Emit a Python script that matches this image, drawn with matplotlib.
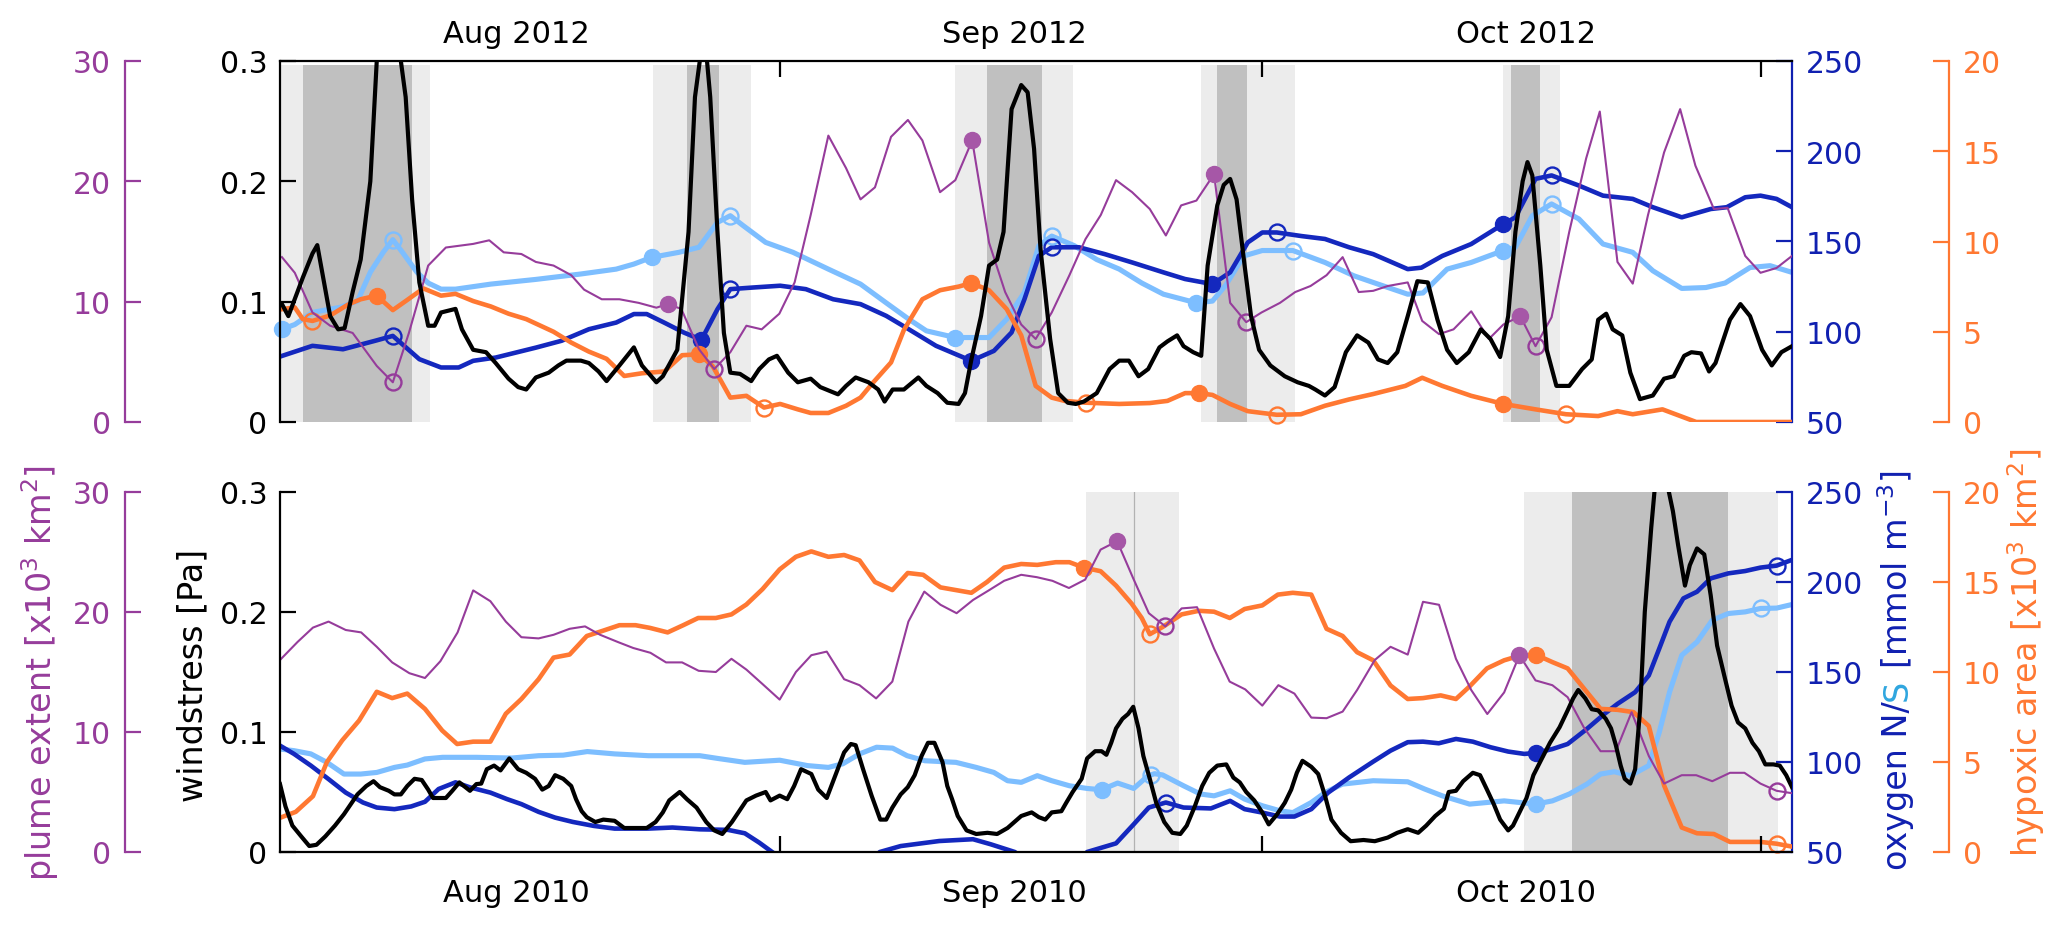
import numpy as np
import matplotlib
matplotlib.use("Agg")
import matplotlib.pyplot as plt

plt.rcParams['font.family'] = ['DejaVu Sans']
plt.rcParams['mathtext.fontset'] = 'dejavusans'

W, H = 2067, 929

# x axis in days since 1 Aug
X_MIN, X_MAX = -0.12, 93.96
month_ticks = [31, 61, 92]
month_label_pos = [14.6, 45.6, 77.4]
labels_2012 = ["Aug 2012", "Sep 2012", "Oct 2012"]
labels_2010 = ["Aug 2010", "Sep 2010", "Oct 2010"]

# ---------------- 2012 (top panel) ----------------
wind_2012 = [(0, 0.098), (0.4, 0.088), (1.3, 0.12), (1.9, 0.14), (2.2, 0.147), (3.0, 0.088), (3.5, 0.077),
             (3.9, 0.078), (4.4, 0.108), (4.9, 0.135), (5.5, 0.2), (5.9, 0.3), (6.4, 0.36), (6.9, 0.38),
             (7.4, 0.3), (7.7, 0.27), (8.1, 0.185), (8.55, 0.116), (9.1, 0.08), (9.5, 0.08), (9.9, 0.091),
             (10.8, 0.094), (11.2, 0.077), (11.9, 0.06), (12.7, 0.058), (13.3, 0.049), (14.1, 0.036),
             (14.7, 0.029), (15.2, 0.027), (15.8, 0.037), (16.6, 0.041), (17.2, 0.047), (17.7, 0.051),
             (18.6, 0.051), (19.1, 0.049), (19.7, 0.042), (20.2, 0.034), (21.0, 0.047), (21.9, 0.062),
             (22.4, 0.047), (23.3, 0.033), (23.7, 0.038), (24.6, 0.06), (25.3, 0.158), (25.7, 0.27),
             (26.0, 0.3), (26.2, 0.31), (26.45, 0.3), (26.65, 0.27), (27.1, 0.158), (27.5, 0.074),
             (27.9, 0.041), (28.5, 0.04), (29.2, 0.034), (29.7, 0.044), (30.3, 0.052), (30.8, 0.055),
             (31.5, 0.041), (32.1, 0.033), (32.9, 0.036), (33.5, 0.029), (34.6, 0.023), (35.1, 0.03),
             (35.7, 0.037), (36.5, 0.033), (37.1, 0.027), (37.5, 0.017), (38.0, 0.027), (38.7, 0.027),
             (39.6, 0.037), (40.1, 0.03), (40.8, 0.024), (41.4, 0.016), (42.1, 0.015), (42.5, 0.024),
             (42.9, 0.052), (43.5, 0.088), (44.0, 0.13), (44.5, 0.135), (44.9, 0.158), (45.4, 0.26),
             (46.0, 0.28), (46.4, 0.274), (46.8, 0.227), (47.2, 0.144), (47.8, 0.069), (48.3, 0.024),
             (48.9, 0.016), (49.4, 0.015), (49.9, 0.017), (50.7, 0.024), (51.5, 0.044), (52.1, 0.051),
             (52.7, 0.051), (53.3, 0.038), (53.9, 0.044), (54.6, 0.062), (55.1, 0.067), (55.7, 0.072),
             (56.1, 0.063), (56.7, 0.058), (57.2, 0.055), (57.6, 0.13), (58.2, 0.18), (58.6, 0.197),
             (59.0, 0.202), (59.4, 0.185), (59.9, 0.13), (60.3, 0.088), (60.8, 0.06), (61.5, 0.047),
             (62.4, 0.038), (63.2, 0.033), (63.9, 0.03), (64.3, 0.027), (64.9, 0.022), (65.5, 0.029),
             (66.2, 0.058), (66.9, 0.072), (67.6, 0.066), (68.2, 0.052), (68.8, 0.049), (69.4, 0.058),
             (70.05, 0.088), (70.65, 0.117), (71.3, 0.116), (71.9, 0.085), (72.5, 0.06), (73.1, 0.049),
             (73.85, 0.058), (74.6, 0.077), (75.2, 0.069), (75.8, 0.054), (76.3, 0.088), (76.75, 0.158),
             (77.2, 0.2), (77.5, 0.216), (77.8, 0.205), (78.3, 0.13), (78.7, 0.06), (79.3, 0.03),
             (80.1, 0.03), (80.9, 0.044), (81.5, 0.052), (81.9, 0.085), (82.4, 0.09), (82.8, 0.077),
             (83.4, 0.072), (83.9, 0.041), (84.5, 0.019), (85.3, 0.022), (86.0, 0.036), (86.6, 0.038),
             (87.25, 0.055), (87.7, 0.058), (88.3, 0.057), (88.8, 0.042), (89.2, 0.049), (90.1, 0.085),
             (90.75, 0.098), (91.35, 0.088), (92.1, 0.06), (92.7, 0.047), (93.3, 0.058), (93.96, 0.063)]

oxyN_2012 = [(0, 86.6), (1.9, 92.2), (3.8, 90.3), (5.8, 95), (6.9, 97.7), (8.55, 84.8), (9.9, 80.2),
             (11.0, 80.2), (11.9, 83.9), (13.3, 85.7), (15.8, 91.2), (17.4, 95), (19.1, 101.4),
             (20.8, 105.1), (21.9, 109.8), (22.7, 109.8), (23.8, 105), (25.0, 99.6), (26.1, 95.5),
             (27.1, 112.5), (27.9, 123.6), (29.3, 124.5), (31.0, 125.5), (32.6, 123.6), (34.3, 118),
             (36.0, 115.3), (37.6, 108.8), (39.0, 101.4), (40.7, 92.2), (42.9, 83.9), (44.3, 89.4),
             (45.4, 99.6), (46.2, 118), (47.1, 142), (47.9, 146.8), (49.6, 146.8), (51.2, 143),
             (52.9, 138.4), (54.85, 132.9), (56.2, 129.2), (57.9, 126.4), (59.0, 132.9), (60.1, 149.5),
             (61.0, 155), (61.9, 155), (63.45, 153), (64.9, 151.4), (66.4, 146.8), (67.9, 143),
             (70.05, 134.7), (70.9, 135.5), (72.2, 142), (74.0, 148.6), (76.0, 159.7), (76.75, 163.4),
             (78.0, 184.7), (79.0, 186.6), (80.7, 181), (82.2, 175.4), (84.05, 173.6), (85.3, 169),
             (87.1, 163.4), (88.9, 168), (89.9, 169), (91.05, 174.5), (92.0, 175.4), (93.0, 173.6),
             (93.96, 169)]

oxyS_2012 = [(0, 101.4), (0.8, 104), (1.9, 110.7), (3.6, 113.5), (4.7, 117), (5.5, 133), (6.3, 144),
             (6.9, 151), (7.5, 144), (8.4, 133), (9.1, 127), (9.9, 123.6), (10.8, 123.6), (13.0, 126.4),
             (15.8, 129), (18.6, 132), (20.8, 134.7), (21.9, 137.5), (23.0, 141.2), (24.7, 144),
             (25.95, 146.8), (27.1, 160.6), (27.9, 164.3), (28.7, 158.8), (30.1, 149.5), (31.8, 144),
             (34.0, 134.7), (36.0, 126.4), (37.6, 116), (39.0, 107), (40.1, 100.5), (41.9, 96.8),
             (44.0, 96.8), (45.1, 107), (46.2, 121.8), (47.1, 147.7), (47.9, 153), (49.3, 147.7),
             (50.7, 140), (52.1, 134.7), (53.5, 127), (54.85, 120.8), (56.9, 116), (57.9, 117),
             (58.7, 125.5), (59.85, 142), (61.0, 145), (62.9, 145), (64.9, 138.4), (66.7, 131),
             (68.2, 126.4), (70.05, 120.8), (71.0, 121.5), (72.5, 134.7), (74.0, 138.4), (76.0, 145),
             (76.75, 146.8), (77.8, 164.3), (79.0, 170.8), (80.7, 162.5), (82.2, 148.6), (84.05, 144),
             (85.3, 133.8), (87.1, 124), (88.6, 124.5), (89.8, 127), (91.35, 135.6), (92.6, 136.6),
             (93.96, 132.9)]

hypoxic_2012 = [(0, 6.25), (0.8, 6.35), (1.3, 5.7), (1.9, 5.6), (3.0, 5.9), (4.1, 6.5), (4.9, 6.8),
                (5.9, 7.0), (6.9, 6.2), (7.7, 6.7), (8.8, 7.4), (9.9, 7.0), (10.8, 7.1), (11.9, 6.7),
                (13.0, 6.4), (14.1, 6.0), (15.2, 5.7), (16.9, 5.0), (18.0, 4.4), (19.1, 3.9), (20.2, 3.5),
                (21.3, 2.55), (22.4, 2.7), (23.8, 2.8), (24.9, 3.7), (25.95, 3.75), (26.8, 3.1),
                (27.9, 1.35), (28.9, 1.45), (30.0, 0.8), (31.0, 1.0), (32.1, 0.7), (32.9, 0.5), (34.0, 0.5),
                (35.1, 0.9), (36.0, 1.35), (36.8, 2.2), (37.9, 3.3), (38.7, 5.1), (39.85, 6.8),
                (40.95, 7.3), (42.1, 7.5), (42.9, 7.7), (44.0, 7.3), (45.1, 6.25), (46.0, 4.8), (46.9, 2.0),
                (47.9, 1.35), (48.7, 1.17), (50.0, 1.07), (52.1, 1.0), (54.0, 1.05), (55.1, 1.17),
                (56.2, 1.6), (57.05, 1.6), (57.9, 1.5), (59.0, 1.0), (60.1, 0.6), (61.9, 0.4), (63.4, 0.43),
                (64.9, 0.9), (66.4, 1.25), (67.9, 1.55), (69.9, 2.0), (70.95, 2.45), (72.2, 2.0),
                (74.0, 1.45), (76.0, 1.0), (78.0, 0.7), (79.9, 0.43), (81.9, 0.33), (83.1, 0.6),
                (84.05, 0.43), (85.9, 0.7), (88.0, 0.0), (93.96, 0.0)]

plume_2012 = [(0, 13.7), (0.8, 12.4), (1.9, 9.1), (3.0, 8.0), (4.4, 7.4), (5.9, 4.66), (6.9, 3.3),
              (7.9, 7.4), (9.1, 13.0), (10.2, 14.5), (11.9, 14.8), (12.9, 15.1), (13.8, 14.1),
              (14.9, 13.96), (15.8, 13.3), (16.9, 13.0), (18.0, 12.2), (18.8, 11.0), (19.9, 10.2),
              (21.0, 10.2), (22.2, 9.9), (23.3, 9.5), (24.0, 9.8), (24.85, 9.4), (25.95, 6.05),
              (26.9, 4.4), (27.9, 5.8), (28.9, 8.0), (29.85, 7.7), (30.95, 9.0), (31.9, 11.6),
              (32.9, 17.2), (34.0, 23.8), (35.1, 21.1), (36.0, 18.5), (36.9, 19.5), (37.9, 23.7),
              (38.95, 25.1), (39.85, 23.4), (40.95, 19.1), (41.9, 20.1), (42.95, 23.4), (44.0, 14.9),
              (45.0, 10.8), (46.0, 8.1), (46.9, 6.9), (47.9, 9.1), (49.0, 12.2), (50.0, 15.2),
              (50.95, 17.2), (51.9, 20.1), (52.9, 19.1), (54.0, 17.7), (55.0, 15.5), (55.95, 18.0),
              (56.9, 18.4), (58.0, 20.6), (59.0, 9.9), (60.0, 8.3), (60.95, 9.1), (62.1, 9.9),
              (63.05, 10.8), (64.0, 11.3), (65.0, 12.2), (66.0, 13.7), (67.0, 10.8), (67.9, 10.9),
              (68.8, 11.3), (70.05, 11.6), (70.95, 8.4), (72.0, 7.3), (72.9, 7.7), (74.0, 9.2),
              (75.1, 6.9), (76.0, 8.1), (77.05, 8.8), (78.0, 6.3), (79.0, 8.7), (80.1, 15.8),
              (81.15, 21.9), (82.0, 25.8), (83.1, 13.3), (84.05, 11.5), (85.0, 17.2), (86.0, 22.4),
              (87.0, 26.0), (87.95, 21.3), (89.1, 17.7), (89.95, 17.8), (91.05, 13.8), (92.0, 12.4),
              (93.0, 12.8), (93.96, 13.8)]

# event markers (days): filled = start, open = end
marks_2012 = {
    "oxyS": ([0, 23.0, 41.9, 56.9, 76.0], [6.9, 27.9, 47.9, 62.9, 79.0]),
    "oxyN": ([26.1, 42.9, 57.9, 76.0], [6.9, 27.9, 47.9, 61.9, 79.0]),
    "hypoxic": ([5.9, 25.95, 42.9, 57.05, 76.0], [1.9, 30.0, 50.0, 61.9, 79.9]),
    "plume": ([24.0, 42.95, 58.0, 77.05], [6.9, 26.9, 46.9, 60.0, 78.0]),
}
light_2012 = [(X_MIN, 9.2), (23.1, 29.2), (41.9, 49.2), (57.2, 63.05), (76.0, 79.55)]
dark_2012 = [(1.33, 8.1), (25.2, 27.2), (43.9, 47.3), (58.2, 60.05), (76.5, 78.3)]

# ---------------- 2010 (bottom panel) ----------------
wind_2010 = [(-0.12, 0.0566), (0.22, 0.038), (0.65, 0.022), (1.2, 0.013), (1.7, 0.005), (2.15, 0.006),
             (2.7, 0.013), (3.3, 0.022), (3.86, 0.0315), (4.29, 0.04), (4.7, 0.048), (5.25, 0.055),
             (5.7, 0.059), (6.1, 0.054), (6.65, 0.051), (7.0, 0.048), (7.4, 0.048), (7.8, 0.055),
             (8.25, 0.061), (8.7, 0.06), (9.1, 0.052), (9.4, 0.045), (10.2, 0.045), (10.6, 0.051),
             (11.04, 0.058), (11.7, 0.051), (12.1, 0.0566), (12.4, 0.057), (12.75, 0.069), (13.2, 0.072),
             (13.6, 0.068), (14.15, 0.078), (14.7, 0.069), (15.2, 0.066), (15.75, 0.061), (16.2, 0.052),
             (16.6, 0.055), (17.0, 0.064), (17.5, 0.061), (18.0, 0.055), (18.3, 0.044), (18.65, 0.034),
             (18.97, 0.029), (19.5, 0.025), (20.0, 0.027), (20.7, 0.026), (21.3, 0.02), (22.0, 0.02),
             (22.7, 0.02), (23.25, 0.025), (23.7, 0.033), (24.1, 0.043), (24.75, 0.05), (25.2, 0.044),
             (25.8, 0.037), (26.4, 0.025), (26.9, 0.018), (27.4, 0.015), (28.0, 0.025), (28.4, 0.033),
             (28.9, 0.043), (29.5, 0.047), (30.1, 0.05), (30.4, 0.043), (30.97, 0.047), (31.44, 0.044),
             (31.87, 0.055), (32.3, 0.069), (32.94, 0.065), (33.37, 0.052), (33.9, 0.045), (34.44, 0.064),
             (34.98, 0.083), (35.4, 0.09), (35.7, 0.089), (36.16, 0.069), (36.69, 0.047), (37.23, 0.027),
             (37.6, 0.027), (37.98, 0.037), (38.5, 0.048), (38.94, 0.054), (39.37, 0.064), (39.8, 0.08),
             (40.2, 0.091), (40.6, 0.091), (41.1, 0.075), (41.4, 0.055), (41.7, 0.044), (42.05, 0.03),
             (42.6, 0.018), (43.2, 0.015), (43.9, 0.016), (44.5, 0.015), (45.15, 0.02), (45.58, 0.025),
             (46.0, 0.03), (46.65, 0.033), (47.1, 0.029), (47.5, 0.027), (47.9, 0.033), (48.5, 0.034),
             (48.8, 0.041), (49.2, 0.05), (49.76, 0.061), (50.1, 0.078), (50.6, 0.084), (51.0, 0.084),
             (51.3, 0.081), (51.6, 0.091), (51.9, 0.103), (52.3, 0.111), (52.65, 0.115), (52.97, 0.121),
             (53.3, 0.103), (53.6, 0.08), (54.0, 0.061), (54.4, 0.041), (54.9, 0.025), (55.4, 0.016),
             (55.9, 0.015), (56.3, 0.022), (56.8, 0.038), (57.26, 0.055), (57.7, 0.066), (58.2, 0.072),
             (58.76, 0.073), (59.2, 0.062), (59.6, 0.058), (60.0, 0.05), (60.5, 0.043), (61.0, 0.033),
             (61.4, 0.023), (61.9, 0.031), (62.4, 0.041), (62.8, 0.052), (63.15, 0.066), (63.5, 0.076),
             (64.05, 0.071), (64.48, 0.065), (64.9, 0.047), (65.3, 0.027), (65.9, 0.016), (66.5, 0.009),
             (67.3, 0.01), (68.0, 0.009), (68.8, 0.012), (69.4, 0.016), (70.05, 0.019), (70.7, 0.016),
             (71.2, 0.022), (71.76, 0.03), (72.3, 0.036), (72.6, 0.05), (73.05, 0.051), (73.5, 0.059),
             (74.1, 0.066), (74.55, 0.064), (74.98, 0.052), (75.4, 0.04), (75.8, 0.027), (76.3, 0.018),
             (76.6, 0.022), (77.0, 0.033), (77.44, 0.045), (77.87, 0.064), (78.4, 0.078), (78.9, 0.091),
             (79.5, 0.104), (80.0, 0.118), (80.34, 0.128), (80.66, 0.135), (81.1, 0.128), (81.5, 0.119),
             (81.9, 0.118), (82.37, 0.111), (82.7, 0.103), (83.0, 0.089), (83.3, 0.072), (83.55, 0.061),
             (83.9, 0.057), (84.2, 0.069), (84.5, 0.117), (84.8, 0.2), (85.2, 0.27), (85.4, 0.3),
             (85.85, 0.34), (86.3, 0.3), (86.55, 0.284), (86.87, 0.256), (87.3, 0.222), (87.6, 0.239),
             (88.05, 0.253), (88.5, 0.248), (88.9, 0.214), (89.3, 0.172), (89.8, 0.144), (90.2, 0.122),
             (90.6, 0.108), (91.05, 0.103), (91.5, 0.091), (91.9, 0.084), (92.3, 0.073), (92.8, 0.073),
             (93.2, 0.072), (93.6, 0.064), (93.96, 0.054)]

oxyN_2010 = [(-0.12, 109.1), (0.75, 104.5), (1.8, 98), (2.9, 90.5), (3.97, 83), (5.04, 77.5), (5.9, 74.7),
             (7.0, 73.8), (8.04, 75.3), (8.9, 77.9), (9.75, 85), (10.8, 88.7), (11.7, 85.9), (12.97, 83),
             (14.0, 79.4), (14.9, 76.6), (15.97, 72.3), (17.0, 69.1), (18.1, 66.7), (19.4, 64.5),
             (20.7, 63), (22.8, 63), (24.3, 63.6), (26.0, 62.6), (27.75, 62.3), (28.8, 60.4),
             (29.7, 55.2), (30.5, 50), (31.5, 44), (33.0, 38), (35.0, 38), (36.5, 44), (37.2, 50),
             (38.5, 53.3), (40.9, 56.1), (43.0, 57.1), (44.1, 54.3), (45.6, 50), (46.5, 44), (48.0, 38),
             (49.5, 44), (50.1, 50), (51.0, 52.4), (51.9, 54.8), (53.0, 65.4), (53.94, 74.7), (55.0, 77.5),
             (56.1, 74.7), (57.8, 74.2), (59.0, 78.4), (59.9, 73.8), (61.0, 71.9), (62.1, 69.7),
             (63.0, 69.7), (64.05, 73.8), (65.1, 83), (66.4, 91.4), (67.9, 100.2), (68.98, 106.3),
             (70.05, 111), (71.0, 111.3), (71.98, 110.4), (73.05, 112.8), (74.1, 111.3), (75.2, 108.2),
             (76.3, 105.8), (77.3, 104.5), (78.0, 105), (79.05, 107.2), (80.0, 110), (81.2, 118.4),
             (82.3, 126.8), (83.1, 132.3), (84.2, 138.8), (85.05, 148.1), (85.7, 163), (86.34, 177.9),
             (87.2, 190.9), (88.05, 194.6), (88.9, 202), (90.0, 204.8), (91.05, 206.1), (92.0, 208),
             (93.0, 209.1), (93.96, 212.3)]

oxyS_2010 = [(-0.12, 107.2), (0.75, 106.3), (1.8, 104.5), (2.8, 99.8), (3.86, 93.3), (4.9, 93.3),
             (5.9, 94.2), (7.0, 97.0), (7.8, 98.3), (8.9, 101.7), (10.0, 102.6), (12.1, 102.6),
             (14.3, 102.2), (15.97, 103.5), (17.5, 103.8), (19.0, 105.8), (20.7, 104.5), (22.8, 103.5),
             (26.0, 103.5), (27.1, 102), (28.8, 99.8), (30.97, 101), (32.7, 98), (34.0, 97), (34.9, 99),
             (35.94, 104.5), (37.0, 108.2), (38.0, 107.7), (38.9, 103.5), (40.0, 100.7), (41.94, 99.8),
             (43.2, 97), (44.3, 94.2), (45.15, 89.6), (46.0, 88.7), (47.0, 92.4), (47.9, 89.6),
             (49.0, 86.8), (50.1, 85.3), (51.0, 84.6), (52.0, 88.3), (53.0, 85.3), (53.9, 92.4),
             (54.3, 93.5), (54.8, 92.8), (56.1, 86.8), (57.15, 82.2), (58.0, 81.2), (59.0, 84),
             (59.9, 79.4), (61.0, 75.7), (62.1, 72.9), (62.9, 71.9), (64.05, 77.5), (64.9, 83),
             (65.98, 87.7), (67.9, 89.6), (70.05, 89), (71.1, 85), (72.2, 81.2), (73.9, 76.6),
             (76.05, 78.4), (78.0, 76.6), (79.05, 78.4), (80.1, 82.2), (81.2, 87.7), (82.05, 93.3),
             (82.9, 94.6), (83.9, 92.4), (85.05, 98), (85.7, 116.5), (86.34, 138.8), (87.1, 159.3),
             (88.05, 166.7), (89.0, 178.8), (90.0, 182.5), (91.05, 183.4), (92.0, 185.3), (93.0, 185.5),
             (93.96, 187.5)]

hypoxic_2010 = [(-0.12, 1.9), (0.86, 2.23), (1.93, 3.1), (2.8, 5.0), (3.75, 6.2), (4.8, 7.3), (5.9, 8.9),
                (6.86, 8.55), (7.8, 8.8), (8.9, 7.95), (9.97, 6.75), (10.9, 6.0), (11.9, 6.13),
                (12.97, 6.13), (13.93, 7.68), (14.9, 8.5), (15.97, 9.6), (16.9, 10.8), (17.9, 10.97),
                (18.97, 12.0), (20.0, 12.3), (21.0, 12.6), (22.0, 12.6), (22.9, 12.45), (24.0, 12.2),
                (24.97, 12.6), (25.9, 13.0), (27.0, 13.0), (27.97, 13.2), (28.9, 13.75), (29.9, 14.6),
                (30.97, 15.7), (31.98, 16.4), (32.94, 16.7), (34.0, 16.4), (34.98, 16.5), (35.94, 16.2),
                (36.9, 15.0), (37.98, 14.55), (38.94, 15.5), (39.9, 15.4), (40.98, 14.7), (41.94, 14.55),
                (42.9, 14.4), (43.87, 15.0), (44.94, 15.8), (46.0, 16.0), (47.0, 15.95), (48.15, 16.1),
                (49.0, 16.1), (49.9, 15.8), (50.94, 15.6), (51.9, 14.8), (52.87, 13.8), (53.5, 13.0),
                (54.0, 12.1), (54.8, 12.5), (55.98, 13.2), (57.05, 13.4), (58.0, 13.35), (58.98, 13.0),
                (59.9, 13.5), (61.0, 13.7), (61.97, 14.3), (62.9, 14.4), (64.05, 14.3), (65.0, 12.4),
                (66.0, 12.0), (66.9, 11.1), (67.9, 10.65), (68.98, 9.25), (70.05, 8.5), (71.0, 8.55),
                (72.1, 8.7), (73.05, 8.5), (73.9, 9.2), (74.98, 10.2), (76.05, 10.65), (77.0, 10.9),
                (78.0, 10.97), (79.05, 10.55), (80.0, 10.2), (81.0, 9.1), (82.05, 7.95), (83.1, 7.9),
                (84.1, 7.77), (85.05, 7.0), (86.0, 3.7), (87.1, 1.36), (88.05, 1.04), (89.1, 1.0),
                (90.1, 0.56), (91.0, 0.56), (92.0, 0.56), (93.0, 0.46), (93.96, 0.3)]

plume_2010 = [(-0.12, 16.0), (0.97, 17.5), (1.93, 18.7), (2.9, 19.2), (3.97, 18.5), (4.93, 18.3),
              (5.9, 17.1), (6.86, 15.8), (7.93, 14.9), (8.9, 14.5), (9.86, 15.9), (10.93, 18.3),
              (11.9, 21.8), (12.97, 20.9), (13.93, 19.2), (14.9, 17.9), (15.97, 17.8), (16.9, 18.1),
              (17.9, 18.6), (18.86, 18.8), (19.8, 18.1), (20.9, 17.5), (21.86, 17.0), (22.93, 16.6),
              (23.9, 15.8), (24.9, 15.8), (25.93, 15.1), (27.0, 15.0), (27.97, 16.1), (28.9, 15.2),
              (29.9, 14.0), (30.97, 12.7), (31.98, 15.0), (32.94, 16.4), (33.9, 16.7), (34.98, 14.4),
              (35.94, 13.9), (36.97, 12.8), (37.98, 14.2), (38.98, 19.2), (39.97, 21.7), (40.98, 20.6),
              (41.98, 19.9), (43.0, 21.0), (43.98, 21.8), (44.94, 22.6), (46.0, 23.1), (46.98, 22.9),
              (47.94, 22.6), (48.97, 22.0), (49.98, 22.7), (50.94, 25.2), (51.97, 25.9), (52.97, 22.8),
              (53.94, 19.9), (54.97, 18.8), (55.98, 20.3), (56.94, 20.4), (58.0, 16.95), (58.97, 14.2),
              (59.94, 13.55), (61.0, 12.2), (62.0, 13.9), (63.0, 13.2), (64.05, 11.2), (65.0, 11.15),
              (66.0, 11.7), (66.9, 13.5), (68.0, 16.0), (68.98, 17.1), (70.05, 16.45), (71.0, 20.85),
              (72.0, 20.6), (73.05, 16.1), (74.0, 13.5), (75.0, 11.5), (76.05, 13.3), (77.0, 16.4),
              (78.0, 14.3), (79.05, 13.9), (80.0, 12.9), (81.0, 10.4), (82.05, 8.4), (83.0, 8.4),
              (83.98, 11.65), (85.05, 8.0), (86.0, 5.7), (87.1, 6.4), (88.0, 6.4), (89.0, 5.9),
              (90.1, 6.6), (91.0, 6.6), (92.0, 5.7), (93.0, 5.1), (93.96, 4.9)]

marks_2010 = {
    "oxyS": ([51.0, 78.0], [54.05, 92.0]),
    "oxyN": ([78.0], [55.0, 93.0]),
    "hypoxic": ([49.9, 78.0], [54.0, 93.0]),
    "plume": ([51.97, 77.0], [54.97, 93.0]),
}
light_2010 = [(50.0, 55.8), (77.3, 93.1)]
dark_2010 = [(80.3, 90.0)]
line_2010 = [53.0]

# ---------------- style ----------------
NAVY = '#1428be'
NAVY_AX = '#1020b0'
SKY = '#7dbeff'
SKY_TXT = '#2fa6df'
ORANGE = '#ff7832'
PURPLE = '#963c9b'
PURPLE_DOT = '#a657a7'
LIGHT = '#ececec'
DARK = '#c0c0c0'
TICK_FS = 21.5
MONTH_FS = 22
LABEL_FS = 24
TICK_LEN = 11.5
SPINE_W = 1.6

fig = plt.figure(figsize=(W / 100, H / 100), dpi=100)


def xy(pairs):
    arr = np.array(pairs, dtype=float)
    return arr[:, 0], arr[:, 1]


def offset_axis(rect, side, pos, color, lim, ticks):
    ax = fig.add_axes(rect, facecolor='none')
    ax.set_xlim(X_MIN, X_MAX)
    for s in ax.spines.values():
        s.set_visible(False)
    sp = ax.spines[side]
    sp.set_visible(True)
    sp.set_position(('axes', pos))
    sp.set_color(color)
    sp.set_linewidth(SPINE_W)
    ax.xaxis.set_visible(False)
    ax.yaxis.set_ticks_position(side)
    ax.set_ylim(*lim)
    ax.set_yticks(ticks)
    ax.tick_params(axis='y', direction='in', length=TICK_LEN, width=SPINE_W,
                   colors=color, labelsize=TICK_FS, pad=10)
    return ax


def draw_marks(ax, pairs, filled, opened, color, dot_color=None):
    d, v = xy(pairs)
    dot_color = dot_color or color
    if filled:
        ax.plot(filled, np.interp(filled, d, v), 'o', ms=11.5, mfc=dot_color, mec=dot_color,
                clip_on=False, zorder=5)
    if opened:
        ax.plot(opened, np.interp(opened, d, v), 'o', ms=11.5, mfc='none', mec=color,
                mew=1.7, clip_on=False, zorder=5)


def panel(rect, wind, oxyN, oxyS, hyp, plume, marks, light, dark, lines, labels, top):
    bg = fig.add_axes(rect)
    bg.set_xlim(X_MIN, X_MAX)
    bg.set_ylim(0, 1)
    bg.axis('off')
    ytop = 0.99 if top else 1.0
    for a, b in light:
        bg.axvspan(a, b, ymin=0, ymax=ytop, color=LIGHT, lw=0)
    for a, b in dark:
        bg.axvspan(a, b, ymin=0, ymax=ytop, color=DARK, lw=0)
    for d in lines:
        bg.axvline(d, ymin=0, ymax=ytop, color='#b2b2b2', lw=0.9)

    # oxygen (right, blue)
    ax_b = offset_axis(rect, 'right', 1.0, NAVY_AX, (50, 250), [50, 100, 150, 200, 250])
    ax_b.plot(*xy(oxyS), color=SKY, lw=3.7, solid_joinstyle='round')
    ax_b.plot(*xy(oxyN), color=NAVY, lw=3.3, solid_joinstyle='round')
    draw_marks(ax_b, oxyS, *marks["oxyS"], SKY)
    draw_marks(ax_b, oxyN, *marks["oxyN"], NAVY)

    # hypoxic area (outer right, orange)
    ax_o = offset_axis(rect, 'right', (1949 - 280) / 1512, ORANGE, (0, 20), [0, 5, 10, 15, 20])
    ax_o.plot(*xy(hyp), color=ORANGE, lw=3.3, solid_joinstyle='round')
    draw_marks(ax_o, hyp, *marks["hypoxic"], ORANGE)

    # plume extent (outer left, purple)
    ax_p = offset_axis(rect, 'left', (125 - 280) / 1512, PURPLE, (0, 30), [0, 10, 20, 30])
    ax_p.plot(*xy(plume), color=PURPLE, lw=1.5)
    draw_marks(ax_p, plume, *marks["plume"], PURPLE, PURPLE_DOT)

    # windstress (main axis, black)
    ax = fig.add_axes(rect, facecolor='none')
    ax.plot(*xy(wind), color='black', lw=3.0, solid_joinstyle='round')
    ax.set_xlim(X_MIN, X_MAX)
    ax.set_ylim(0, 0.3)
    ax.set_yticks([0, 0.1, 0.2, 0.3])
    ax.set_yticklabels(['0', '0.1', '0.2', '0.3'])
    ax.spines['right'].set_visible(False)
    ax.spines['bottom' if top else 'top'].set_visible(False)
    for s in ('left', 'top', 'bottom'):
        ax.spines[s].set_linewidth(SPINE_W)
    ax.set_xticks(month_ticks)
    ax.set_xticklabels([])
    ax.set_xticks(month_label_pos, labels, minor=True)
    ax.tick_params(axis='x', which='major', direction='in', length=TICK_LEN, width=SPINE_W,
                   top=top, bottom=not top, labeltop=False, labelbottom=False)
    ax.tick_params(axis='x', which='minor', length=0, top=top, bottom=not top,
                   labeltop=top, labelbottom=not top, labelsize=MONTH_FS,
                   pad=9.5 if top else 18.5)
    ax.tick_params(axis='y', direction='in', length=TICK_LEN, width=SPINE_W,
                   labelsize=TICK_FS, pad=9)
    return ax


rect_top = [280 / W, 1 - 423 / H, 1512 / W, 361 / H]
rect_bot = [280 / W, 1 - 853 / H, 1512 / W, 360 / H]

panel(rect_top, wind_2012, oxyN_2012, oxyS_2012, hypoxic_2012, plume_2012, marks_2012,
      light_2012, dark_2012, [], labels_2012, True)
panel(rect_bot, wind_2010, oxyN_2010, oxyS_2010, hypoxic_2010, plume_2010, marks_2010,
      light_2010, dark_2010, line_2010, labels_2010, False)

# axis labels (bottom panel)
fig.text(40 / W, 1 - 673 / H, 'plume extent [x10$^{3}$ km$^{2}$]', rotation=90,
         ha='center', va='center', color=PURPLE, fontsize=LABEL_FS)
fig.text(193 / W, 1 - 675 / H, 'windstress [Pa]', rotation=90,
         ha='center', va='center', color='black', fontsize=LABEL_FS)
fig.text(2026 / W, 1 - 653 / H, 'hypoxic area [x10$^{3}$ km$^{2}$]', rotation=90,
         ha='center', va='center', color=ORANGE, fontsize=LABEL_FS)

# two-colour oxygen label, stacked upwards from the bottom
renderer = fig.canvas.get_renderer()


def text_width(s):
    t = fig.text(0, 0, s, fontsize=LABEL_FS)
    w = t.get_window_extent(renderer).width
    t.remove()
    return w


ox_full = 'oxygen N/S [mmol m$^{-3}$]'
ox_parts = [
    ('oxygen N/', NAVY_AX, 0.0),
    ('S', SKY_TXT, text_width('oxygen N/S') - text_width('S')),
    ('[mmol m$^{-3}$]', NAVY_AX, text_width(ox_full) - text_width('[mmol m$^{-3}$]')),
]
y0 = 1 - 870 / H
for s, c, off in ox_parts:
    fig.text(1907 / W, y0 + off / H, s, rotation=90, rotation_mode='anchor',
             ha='left', va='baseline', color=c, fontsize=LABEL_FS)

fig.savefig('out.png', dpi=100)
